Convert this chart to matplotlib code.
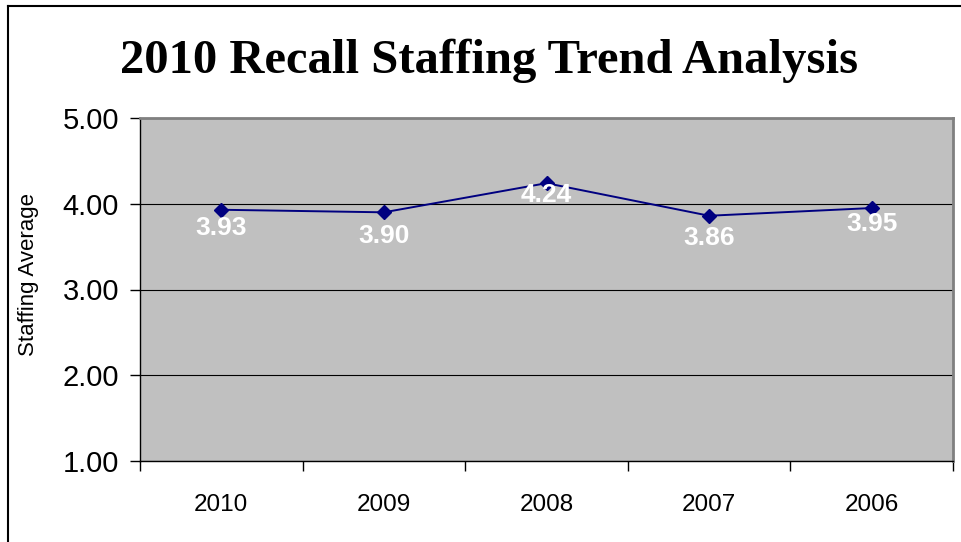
import matplotlib.pyplot as plt
from matplotlib.lines import Line2D

years = ['2010', '2009', '2008', '2007', '2006']
staffing = [3.93, 3.90, 4.24, 3.86, 3.95]
y_ticks = [1.0, 2.0, 3.0, 4.0, 5.0]

W, H = 962, 542
fig = plt.figure(figsize=(W / 100, H / 100), dpi=100)

# plot area in pixel coords of the reference
left, right, top, bottom = 140, 953, 118, 461
ax = fig.add_axes([left / W, 1 - bottom / H, (right - left) / W, (bottom - top) / H])
ax.set_facecolor('#C0C0C0')

x = list(range(len(years)))
ax.plot(x, staffing, color='#000080', linewidth=1.4, marker='D', markersize=7,
        zorder=3)

# per-label pixel offsets below each point
label_dy = [-18, -24, -12, -22, -16]
for xi, v, dy in zip(x, staffing, label_dy):
    ax.annotate(f'{v:.2f}', (xi, v), xytext=(0, dy * 0.72), textcoords='offset points',
                ha='center', va='center', color='white', fontweight='bold',
                fontsize=19, family='Liberation Sans', zorder=4)

ax.set_xlim(-0.5, len(years) - 0.5)
ax.set_ylim(1, 5)
ax.set_yticks(y_ticks)
ax.set_yticklabels([f'{t:.2f}' for t in y_ticks], fontsize=21, family='Liberation Sans')
ax.yaxis.grid(True, color='black', linewidth=0.8)
ax.set_axisbelow(True)

ax.set_xticks(x)
ax.set_xticklabels(years, fontsize=17.5, family='Liberation Sans')
ax.set_xticks([i - 0.5 for i in range(len(years) + 1)], minor=True)
ax.tick_params(axis='x', which='major', length=0, pad=24)
ax.tick_params(axis='x', which='minor', length=7, width=1, direction='out')
ax.tick_params(axis='y', length=7, width=1, direction='out', pad=8)

for s in ['top', 'right']:
    ax.spines[s].set_color('#808080')
    ax.spines[s].set_linewidth(2)
for s in ['left', 'bottom']:
    ax.spines[s].set_color('black')
    ax.spines[s].set_linewidth(1)

fig.text(29 / W, 1 - 274 / H, 'Staffing Average', rotation=90, ha='center', va='center',
         fontsize=16, family='Liberation Sans')

fig.text(489 / W, 1 - 61 / H, '2010 Recall Staffing Trend Analysis', ha='center',
         va='center', fontsize=35, fontweight='bold', family='Liberation Serif')

# outer chart border (top and left only visible)
fig.add_artist(Line2D([8 / W, 1], [1 - 6 / H, 1 - 6 / H], color='black', linewidth=1.5,
                      transform=fig.transFigure))
fig.add_artist(Line2D([8 / W, 8 / W], [0, 1 - 6 / H], color='black', linewidth=1.5,
                      transform=fig.transFigure))

fig.savefig('out.png', dpi=100)
